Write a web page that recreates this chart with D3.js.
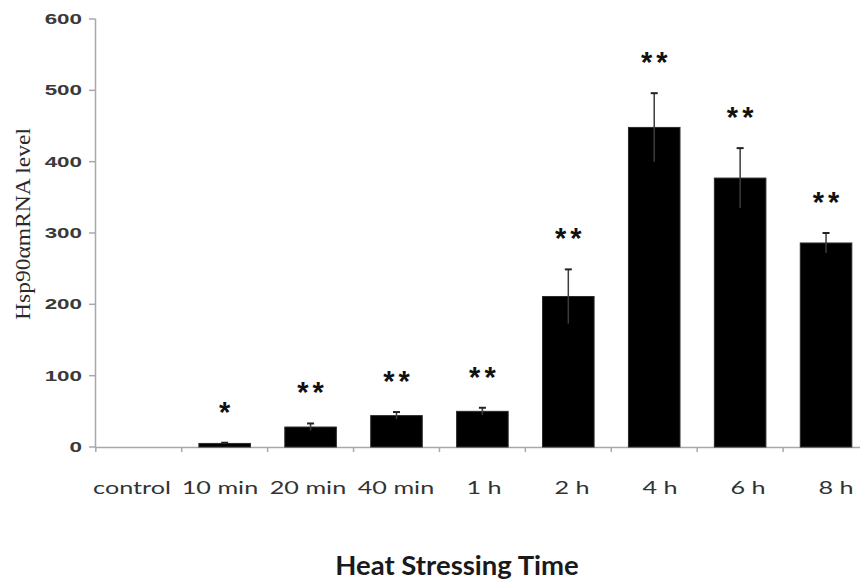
<!DOCTYPE html>
<html>
<head>
<meta charset="utf-8">
<script src="https://cdn.jsdelivr.net/npm/d3@7"></script>
<style>
  body { margin: 0; background: #fff; }
</style>
</head>
<body>
<svg id="chart" width="860" height="587"></svg>
<script>
const categories = ['control', '10 min', '20 min', '40 min', '1 h', '2 h', '4 h', '6 h', '8 h'];
const means = [0, 5, 28, 44, 50, 211, 448, 377, 286];
const errors = [0, 1, 5, 5, 5, 38, 48, 42, 14];
const marks = ['', '*', '**', '**', '**', '**', '**', '**', '**'];
const yTicks = [0, 100, 200, 300, 400, 500, 600];

const data = categories.map((c, i) => ({ name: c, value: means[i], err: errors[i], sig: marks[i] }));

const svg = d3.select('#chart');

const y = d3.scaleLinear().domain([0, 600]).range([447, 19]);
const x = d3.scaleBand().domain(categories).range([95.8, 869]).paddingInner(0.4).paddingOuter(0.2);
// the category labels sit a little off the bar centres in the original
const xLabel = d3.scalePoint().domain(categories).range([132, 836]);

const axisColor = '#a8a8a8';

// y axis
svg.append('line')
  .attr('x1', 95.5).attr('x2', 95.5)
  .attr('y1', y(600)).attr('y2', y(0))
  .attr('stroke', axisColor).attr('stroke-width', 1.5);

svg.selectAll('.ytick')
  .data(yTicks).enter().append('line')
  .attr('x1', 89).attr('x2', 95.5)
  .attr('y1', d => y(d)).attr('y2', d => y(d))
  .attr('stroke', axisColor).attr('stroke-width', 1.5);

// tick text in the original is stretched sideways
svg.selectAll('.ylab')
  .data(yTicks).enter().append('text')
  .attr('transform', d => `translate(82,${y(d) + 5}) scale(1.6,1)`)
  .attr('text-anchor', 'end')
  .style('font-family', 'Liberation Sans, Arial, sans-serif')
  .style('font-weight', 'bold')
  .style('font-size', '14px')
  .style('fill', '#3a3a3a')
  .text(d => d);

// x axis
svg.append('line')
  .attr('x1', 95.5).attr('x2', 860)
  .attr('y1', y(0) + 0.5).attr('y2', y(0) + 0.5)
  .attr('stroke', axisColor).attr('stroke-width', 1.5);

svg.selectAll('.xtick')
  .data(categories).enter().append('line')
  .attr('x1', d => x(d) - x.step() * 0.2)
  .attr('x2', d => x(d) - x.step() * 0.2)
  .attr('y1', y(0)).attr('y2', y(0) + 5)
  .attr('stroke', axisColor).attr('stroke-width', 1.5);

// bars
svg.selectAll('.bar')
  .data(data).enter().append('rect')
  .attr('x', d => x(d.name))
  .attr('y', d => y(d.value))
  .attr('width', x.bandwidth())
  .attr('height', d => y(0) - y(d.value))
  .attr('fill', '#000')
  .attr('stroke', '#2a2a2a')
  .attr('stroke-width', 1);

// error bars
const withErr = data.filter(d => d.err > 0);
svg.selectAll('.err')
  .data(withErr).enter().append('line')
  .attr('x1', d => x(d.name) + x.bandwidth() / 2)
  .attr('x2', d => x(d.name) + x.bandwidth() / 2)
  .attr('y1', d => y(Math.max(0, d.value - d.err)))
  .attr('y2', d => y(d.value + d.err))
  .attr('stroke', '#3c3c3c')
  .attr('stroke-width', 1.5);

svg.selectAll('.cap')
  .data(withErr).enter().append('line')
  .attr('x1', d => x(d.name) + x.bandwidth() / 2 - 3.5)
  .attr('x2', d => x(d.name) + x.bandwidth() / 2 + 3.5)
  .attr('y1', d => y(d.value + d.err))
  .attr('y2', d => y(d.value + d.err))
  .attr('stroke', '#222')
  .attr('stroke-width', 2);

// significance stars
svg.selectAll('.sig')
  .data(data).enter().append('text')
  .attr('x', d => x(d.name) + x.bandwidth() / 2 + 2)
  .attr('y', d => y(d.value + d.err) - 34 + 13)
  .attr('text-anchor', 'middle')
  .style('font-family', 'Liberation Sans, Arial, sans-serif')
  .style('font-weight', 'bold')
  .style('font-size', '29px')
  .style('letter-spacing', '4px')
  .style('fill', '#111')
  .text(d => d.sig);

// category labels, also stretched sideways
svg.selectAll('.xlab')
  .data(categories).enter().append('text')
  .attr('transform', d => `translate(${xLabel(d)},494) scale(1.4,1)`)
  .attr('text-anchor', 'middle')
  .style('font-family', 'Lato, sans-serif')
  .style('font-size', '18px')
  .style('fill', '#333')
  .text(d => d);

// axis titles
svg.append('text')
  .attr('transform', 'translate(30,224) rotate(-90)')
  .attr('text-anchor', 'middle')
  .attr('textLength', 192)
  .attr('lengthAdjust', 'spacingAndGlyphs')
  .style('font-family', 'Liberation Serif, Times New Roman, serif')
  .style('font-size', '22px')
  .style('fill', '#2a2a2a')
  .text('Hsp90αmRNA level');

svg.append('text')
  .attr('x', 457)
  .attr('y', 575)
  .attr('text-anchor', 'middle')
  .style('font-family', 'Lato, sans-serif')
  .style('font-weight', 'bold')
  .style('font-size', '27.5px')
  .style('fill', '#1a1a1a')
  .text('Heat Stressing Time');
</script>
</body>
</html>
